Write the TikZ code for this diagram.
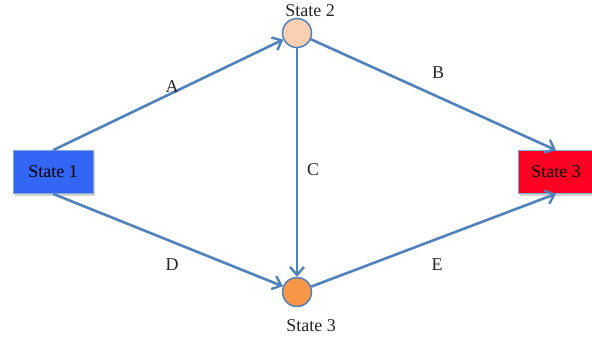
\documentclass[tikz,border=0pt]{standalone}
\usepackage{fontspec}
\setmainfont{Liberation Serif}
\usetikzlibrary{arrows.meta,shadows}
\definecolor{edgeblue}{HTML}{4F81BD}
\definecolor{boxblue}{HTML}{3366F5}
\definecolor{boxred}{HTML}{FF0022}
\definecolor{peach}{HTML}{FBD0B2}
\definecolor{orange}{HTML}{F79646}
\begin{document}
\begin{tikzpicture}[x=1pt, y=-1pt,
  statebox/.style={draw=edgeblue!70, line width=0.6pt, minimum width=80pt, minimum height=43pt,
    font=\fontsize{18}{20}\selectfont, drop shadow={opacity=0.35, shadow xshift=1.5pt, shadow yshift=-2pt}},
  statedot/.style={circle, draw=edgeblue, line width=1.5pt, minimum size=29pt, inner sep=0pt},
  trans/.style={draw=edgeblue, line width=2.6pt, -{Straight Barb[length=8pt, width=14pt, line width=2.4pt]}},
  lbl/.style={font=\fontsize{18}{20}\selectfont, text=black!85}]
\useasboundingbox (0,0) rectangle (592,343);

\node[statebox, fill=boxblue] at (53,172) (s1) {State 1};
\node[statebox, fill=boxred, minimum width=76pt] at (556,172) (s3box) {State 3};
\node[statedot, fill=peach] at (297,33) (s2) {};
\node[statedot, fill=orange] at (297,292) (s3) {};

\draw[trans] (s1.north) -- (s2);
\draw[trans] (s1.south) -- (s3);
\draw[trans] (s2) -- (s3);
\draw[trans] (s2) -- (s3box.north);
\draw[trans] (s3) -- (s3box.south);

\node[lbl] at (310,11) (l2) {State 2};
\node[lbl] at (311,326) (l3) {State 3};
\node[lbl] at (172,87) (la) {A};
\node[lbl] at (438,73) (lb) {B};
\node[lbl] at (313,170) (lc) {C};
\node[lbl] at (172,265) (ld) {D};
\node[lbl] at (437,265) (le) {E};
\end{tikzpicture}
\end{document}
